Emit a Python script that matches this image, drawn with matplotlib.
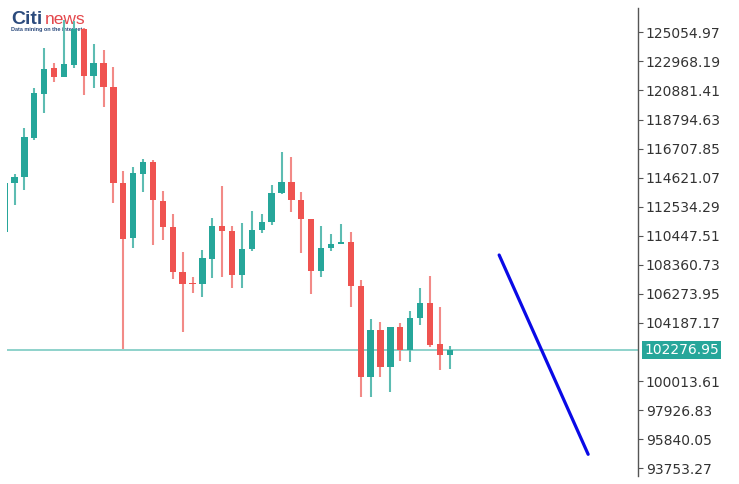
import matplotlib
matplotlib.use("Agg")
import matplotlib.pyplot as plt
import numpy as np

# ---- data ----
opens = [110700, 114258, 114632, 117489, 120626, 122492, 121868, 122708, 125256, 121918,
         122873, 121107, 114237, 110253, 114883, 115723, 112966, 111114, 107848, 107058,
         106986, 108817, 111150, 110813, 107632, 109477, 110863, 111459, 113497, 114330,
         112981, 111653, 107920, 109535, 109858, 110023, 106864, 100289, 103684, 101050,
         103900, 102249, 104524, 105601, 102658, 101890]
highs = [114380, 114883, 118185, 121056, 123928, 122851, 125938, 125866, 125364, 124194,
         123784, 122586, 115098, 115421, 115960, 115852, 113627, 111990, 109248, 107489,
         109427, 111724, 114021, 111150, 111344, 112191, 111976, 114093, 116441, 116103,
         113612, 111688, 111150, 110554, 111272, 110741, 107274, 104510, 104237, 103921,
         104165, 105084, 106678, 107561, 105357, 102557]
lows = [110648, 112658, 113734, 117324, 119226, 121487, 121810, 122492, 120554, 121021,
        119657, 112801, 102320, 109549, 113591, 109822, 110145, 107345, 103541, 106319,
        106075, 107396, 107467, 106678, 106678, 109355, 110626, 111222, 113447, 112177,
        109190, 106304, 107489, 109377, 109836, 105335, 98896, 98896, 100289, 99234,
        101459, 101409, 104079, 102442, 100791, 100863]
closes = [114237, 114689, 117561, 120676, 122420, 121868, 122758, 125256, 121918, 122873,
          121107, 114237, 110217, 114933, 115723, 113016, 111100, 107848, 106986, 106986,
          108853, 111150, 110813, 107632, 109499, 110884, 111459, 113497, 114330, 113016,
          111631, 107920, 109549, 109879, 110016, 106864, 100289, 103684, 101050, 103900,
          102249, 104546, 105644, 102572, 101890, 102276.95]

current_price = 102276.95
ytick_values = [125054.97, 122968.19, 120881.41, 118794.63, 116707.85, 114621.07,
                112534.29, 110447.51, 108360.73, 106273.95, 104187.17,
                100013.61, 97926.83, 95840.05, 93753.27]
ytick_labels = ["125054.97", "122968.19", "120881.41", "118794.63", "116707.85", "114621.07",
                "112534.29", "110447.51", "108360.73", "106273.95", "104187.17",
                "100013.61", "97926.83", "95840.05", "93753.27"]
trend_x = [50, 59]
trend_y = [109068, 94761]

# ---- styles ----
UP = "#26a69a"
DOWN = "#ef5350"
UP_WICK = "#5dbcb2"
DOWN_WICK = "#f28a87"

W, H = 739, 484
fig = plt.figure(figsize=(W / 100, H / 100), dpi=100)
fig.patch.set_facecolor("white")
left, right, top, bottom = 7, 638, 8, 476
ax = fig.add_axes([left / W, 1 - bottom / H, (right - left) / W, (bottom - top) / H])
ax.set_facecolor("none")

x = np.arange(len(opens))
o = np.array(opens, float)
h = np.array(highs, float)
l = np.array(lows, float)
c = np.array(closes, float)
up = c >= o

wick_colors = [UP_WICK if u else DOWN_WICK for u in up]
body_colors = [UP if u else DOWN for u in up]
ax.vlines(x, l, h, colors=wick_colors, linewidth=1.5, zorder=2)
body_bottom = np.minimum(o, c)
body_h = np.maximum(np.abs(c - o), 90)
ax.bar(x, body_h, bottom=body_bottom, width=0.64, color=body_colors, linewidth=0, zorder=3)

ax.axhline(current_price, color="#86cfc7", linewidth=1.3, zorder=1)
ax.plot(trend_x, trend_y, color="#0a0ae6", linewidth=2.3, solid_capstyle="round", zorder=4)

ax.set_xlim(0.24, 64.04)
ax.set_ylim(93204, 126799)

for s in ["left", "top", "bottom"]:
    ax.spines[s].set_visible(False)
ax.spines["right"].set_color("#555555")
ax.spines["right"].set_linewidth(1.0)
ax.set_xticks([])
ax.yaxis.tick_right()
ax.set_yticks(ytick_values)
ax.set_yticklabels(ytick_labels)
ax.tick_params(axis="y", direction="out", length=3.5, width=0.8, color="#555555",
               labelsize=10, labelcolor="#333333", pad=2)

# current price label
ax.text(1.0095, current_price, "102276.95", transform=ax.get_yaxis_transform(),
        ha="left", va="center", fontsize=10, color="white", zorder=10, clip_on=False,
        bbox=dict(boxstyle="square,pad=0.14", facecolor="#26a69a", edgecolor="none"))

# logo
fig.text(11 / W, 1 - 24 / H, "Citi", fontsize=14, fontweight="bold", color="#2c4b7d",
         family="Liberation Sans", ha="left", va="baseline", zorder=-1)
fig.text(45 / W, 1 - 24 / H, "news", fontsize=12.5, color="#e4474c",
         family="Liberation Sans", ha="left", va="baseline", zorder=-1)
fig.text(11 / W, 1 - 31 / H, "Data mining on the internet", fontsize=4, fontweight="bold",
         color="#2c4b7d", family="Liberation Sans", ha="left", va="baseline", zorder=-1)

fig.savefig("out.png", dpi=100, facecolor="white")
